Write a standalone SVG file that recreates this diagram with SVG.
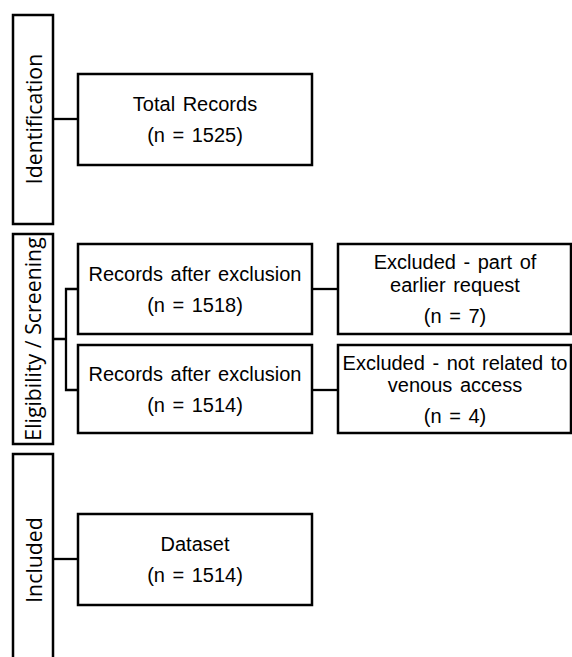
<svg xmlns="http://www.w3.org/2000/svg" width="572" height="657" viewBox="0 0 572 657">
<style>
.box{fill:#fff;stroke:#000;stroke-width:2.5}
.con{fill:none;stroke:#000;stroke-width:2.3}
.t{font-family:"Liberation Sans",Arial,sans-serif;font-size:20px;word-spacing:2px;text-anchor:middle;fill:#000}
.v{font-family:"Open Sans","Liberation Sans",Arial,sans-serif;font-size:21.3px;text-anchor:middle;fill:#000}
</style>
<rect width="572" height="657" fill="#fff"/>
<g id="connectors">
<path class="con" d="M53,119H78"/>
<path class="con" d="M53,339H66M78,289H66V390H78"/>
<path class="con" d="M312,289H338"/>
<path class="con" d="M312,390H338"/>
<path class="con" d="M53,559H78"/>
</g>
<g id="identification">
<rect class="box" x="13" y="15" width="40" height="209"/>
<text class="v" transform="translate(41.5,119) rotate(-90)">Identification</text>
</g>
<g id="screening">
<rect class="box" x="13" y="234" width="40" height="210"/>
<text class="v" transform="translate(41,339) rotate(-90)">Eligibility / Screening</text>
</g>
<g id="included">
<rect class="box" x="13" y="454" width="40" height="220"/>
<text class="v" transform="translate(41.5,560) rotate(-90)">Included</text>
</g>
<g id="total">
<rect class="box" x="78" y="74" width="234" height="91"/>
<text class="t" x="195" y="111">Total Records</text>
<text class="t" x="195" y="142">(n = 1525)</text>
</g>
<g id="records1">
<rect class="box" x="78" y="244" width="234" height="90"/>
<text class="t" x="195" y="280.5">Records after exclusion</text>
<text class="t" x="195" y="311.5">(n = 1518)</text>
</g>
<g id="records2">
<rect class="box" x="78" y="345" width="234" height="88"/>
<text class="t" x="195" y="380.5">Records after exclusion</text>
<text class="t" x="195" y="411.5">(n = 1514)</text>
</g>
<g id="excluded1">
<rect class="box" x="338" y="244" width="233" height="90"/>
<text class="t" x="455" y="269">Excluded - part of</text>
<text class="t" x="455" y="292">earlier request</text>
<text class="t" x="455" y="323">(n = 7)</text>
</g>
<g id="excluded2">
<rect class="box" x="338" y="345" width="233" height="88"/>
<text class="t" x="455" y="370">Excluded - not related to</text>
<text class="t" x="455" y="392">venous access</text>
<text class="t" x="455" y="423">(n = 4)</text>
</g>
<g id="dataset">
<rect class="box" x="78" y="514" width="234" height="91"/>
<text class="t" x="195" y="551">Dataset</text>
<text class="t" x="195" y="582">(n = 1514)</text>
</g>
</svg>
